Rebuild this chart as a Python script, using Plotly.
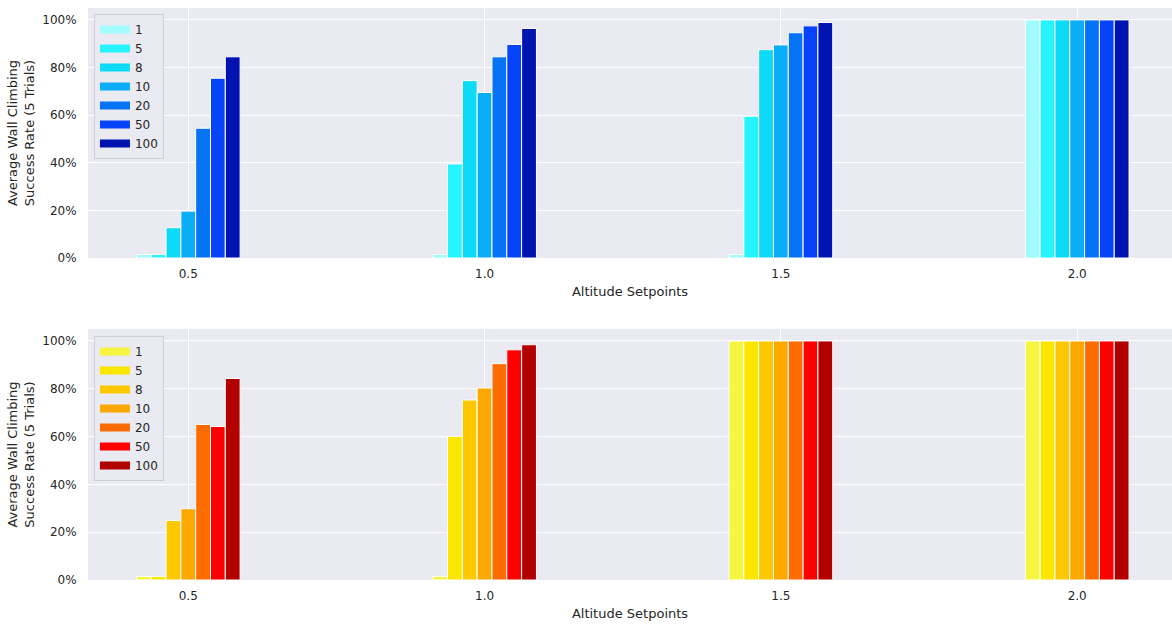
import plotly.graph_objects as go
from plotly.subplots import make_subplots

# ---- data ----
setpoints = [0.5, 1.0, 1.5, 2.0]
series_labels = ["1", "5", "8", "10", "20", "50", "100"]

top_values = {
    "1":   [0.015, 0.015, 0.015, 1.00],
    "5":   [0.015, 0.395, 0.595, 1.00],
    "8":   [0.127, 0.745, 0.875, 1.00],
    "10":  [0.197, 0.695, 0.895, 1.00],
    "20":  [0.545, 0.845, 0.946, 1.00],
    "50":  [0.755, 0.897, 0.975, 1.00],
    "100": [0.845, 0.964, 0.989, 1.00],
}
bottom_values = {
    "1":   [0.015, 0.015, 1.00, 1.00],
    "5":   [0.015, 0.601, 1.00, 1.00],
    "8":   [0.249, 0.753, 1.00, 1.00],
    "10":  [0.298, 0.803, 1.00, 1.00],
    "20":  [0.651, 0.905, 1.00, 1.00],
    "50":  [0.642, 0.963, 1.00, 1.00],
    "100": [0.843, 0.984, 1.00, 1.00],
}
top_colors = ["#a0fcff", "#26f4fd", "#0cdaf6", "#0aaef6", "#0672f4", "#0843fc", "#0014b2"]
bottom_colors = ["#f5f542", "#fbe600", "#fdc800", "#fda800", "#fd6c00", "#ff0000", "#b00000"]

y_ticks = [0, 0.2, 0.4, 0.6, 0.8, 1.0]
x_ticks = [0.5, 1.0, 1.5, 2.0]

FONT = "DejaVu Sans"
TXT = "#262626"
BG = "#eaeaf2"

fig = make_subplots(rows=2, cols=1)

for panel, (vals, cols, leg) in enumerate([(top_values, top_colors, "legend"),
                                          (bottom_values, bottom_colors, "legend2")]):
    row = panel + 1
    for i, lab in enumerate(series_labels):
        grp = f"p{row}_{lab}"
        fig.add_trace(go.Bar(x=setpoints, y=vals[lab], name=lab, legendgroup=grp,
                             showlegend=False,
                             marker=dict(color=cols[i], line=dict(color="white", width=1))),
                      row=row, col=1)
        # legend swatch (rectangular, like the reference)
        fig.add_trace(go.Scatter(x=[None], y=[None], name=lab, legendgroup=grp,
                                 mode="lines", line=dict(color=cols[i], width=8),
                                 legend=leg, showlegend=True, hoverinfo="skip"),
                      row=row, col=1)

H = 624
t, b = 8, 44
ph = H - t - b
top_dom = [(580 - 258) / ph, 1.0]
bot_dom = [0.0, (580 - 329) / ph]

xaxis_common = dict(
    range=[0.3308, 2.160], tickvals=x_ticks, ticktext=["0.5", "1.0", "1.5", "2.0"],
    showgrid=True, gridcolor="white", gridwidth=1, zeroline=False, showline=False,
    ticks="outside", ticklen=5, tickcolor="rgba(0,0,0,0)", automargin=False,
    tickfont=dict(family=FONT, size=12, color=TXT),
    title=dict(text="Altitude Setpoints", font=dict(family=FONT, size=13, color=TXT), standoff=6),
)
yaxis_common = dict(
    range=[0, 1.05], tickvals=y_ticks, tickformat=".0%",
    showgrid=True, gridcolor="white", gridwidth=1, zeroline=False, showline=False,
    ticks="outside", ticklen=8, tickcolor="rgba(0,0,0,0)", automargin=False,
    tickfont=dict(family=FONT, size=12, color=TXT),
    title=dict(text="Average Wall Climbing<br>Success Rate (5 Trials)",
               font=dict(family=FONT, size=13, color=TXT), standoff=4),
)

legend_common = dict(xanchor="left", yanchor="top", bgcolor=BG, bordercolor="#cfcfd6",
                     borderwidth=1, font=dict(family=FONT, size=12, color=TXT),
                     tracegroupgap=0, itemclick=False, itemdoubleclick=False)

fig.update_layout(
    width=1172, height=H,
    margin=dict(l=88, r=0, t=t, b=b, pad=0),
    paper_bgcolor="white", plot_bgcolor=BG,
    barmode="group", bargap=0.65, bargroupgap=0,
    xaxis=dict(domain=[0, 1], anchor="y", **xaxis_common),
    yaxis=dict(domain=top_dom, anchor="x", **yaxis_common),
    xaxis2=dict(domain=[0, 1], anchor="y2", **xaxis_common),
    yaxis2=dict(domain=bot_dom, anchor="x2", **yaxis_common),
    legend=dict(x=0.0055, y=1 - 6 / ph, **legend_common),
    legend2=dict(x=0.0055, y=(580 - 336) / ph, **legend_common),
    showlegend=True,
)

fig.write_html(
    "out.html",
    config={"displayModeBar": False},
    post_script="document.body.style.margin='0';document.body.style.overflow='hidden';",
)
